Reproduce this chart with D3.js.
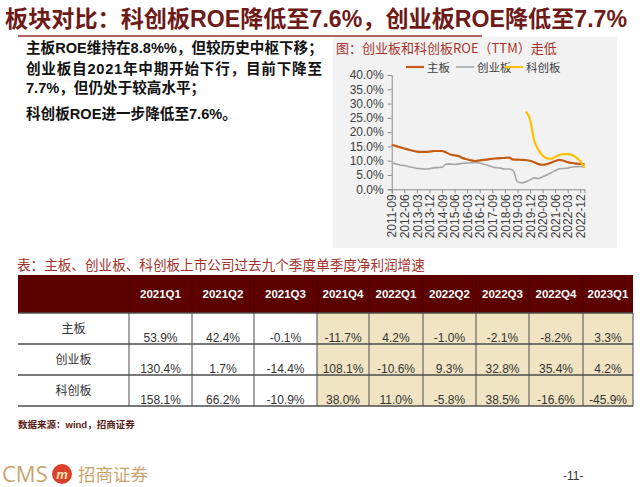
<!DOCTYPE html>
<html><head><meta charset="utf-8">
<script src="https://cdn.jsdelivr.net/npm/d3@7"></script>
<style>
html,body{margin:0;padding:0;background:#fff;}
svg{display:block;}
</style></head>
<body>
<svg id="c" width="640" height="487"></svg>
<script>
// ---------------- data ----------------
const quarters = ["2011-09","2011-12","2012-03","2012-06","2012-09","2012-12","2013-03","2013-06","2013-09","2013-12",
"2014-03","2014-06","2014-09","2014-12","2015-03","2015-06","2015-09","2015-12","2016-03","2016-06","2016-09","2016-12",
"2017-03","2017-06","2017-09","2017-12","2018-03","2018-06","2018-09","2018-12","2019-03","2019-06","2019-09","2019-12",
"2020-03","2020-06","2020-09","2020-12","2021-03","2021-06","2021-09","2021-12","2022-03","2022-06","2022-09","2022-12","2023-03"];
const tickLabels = ["2011-09","2012-06","2013-03","2013-12","2014-09","2015-06","2016-03","2016-12","2017-09","2018-06",
"2019-03","2019-12","2020-09","2021-06","2022-03","2022-12"];
const mainBoard = [15.6,15.1,14.7,14.3,13.9,13.5,13.2,13.1,13.1,13.2,13.4,13.4,13.4,12.9,12.2,11.9,11.6,10.9,10.5,10.1,9.9,10.1,
10.3,10.5,10.7,10.8,10.9,11.0,11.1,10.4,10.4,10.3,10.2,10.0,9.5,8.8,8.6,8.8,9.3,9.9,10.3,10.0,9.5,9.2,9.0,8.9,8.8];
const chiNext = [9.3,8.9,8.5,8.3,8.0,7.6,7.3,7.2,7.1,7.2,7.5,7.6,7.7,8.8,8.8,8.7,8.9,9.1,9.2,9.3,9.4,9.2,
8.8,8.3,7.8,7.6,7.4,7.1,7.1,6.5,2.6,2.3,2.6,3.3,4.0,3.8,4.4,5.0,5.8,6.5,7.2,7.3,7.4,7.8,7.9,8.0,7.7];
const starMarket = [null,null,null,null,null,null,null,null,null,null,null,null,null,null,null,null,null,null,null,null,null,null,
null,null,null,null,null,null,null,null,null,null,27.2,24.5,17.0,13.8,11.8,10.8,10.7,11.3,12.0,12.3,12.3,12.0,11.2,9.8,7.6];
const yTicks = [0,5,10,15,20,25,30,35,40];
const seriesNames = ["主板","创业板","科创板"];
const seriesColors = ["#c55a11","#a5a5a5","#ffc000"];

const tableCols = ["2021Q1","2021Q2","2021Q3","2021Q4","2022Q1","2022Q2","2022Q3","2022Q4","2023Q1"];
const tableRows = ["主板","创业板","科创板"];
const rowMain = ["53.9%","42.4%","-0.1%","-11.7%","4.2%","-1.0%","-2.1%","-8.2%","3.3%"];
const rowChiNext = ["130.4%","1.7%","-14.4%","108.1%","-10.6%","9.3%","32.8%","35.4%","4.2%"];
const rowStar = ["158.1%","66.2%","-10.9%","38.0%","11.0%","-5.8%","38.5%","-16.6%","-45.9%"];

const titleText = "板块对比：科创板ROE降低至7.6%，创业板ROE降低至7.7%";
const bullets = ["主板ROE维持在8.8%%，但较历史中枢下移；","创业板自2021年中期开始下行，目前下降至","7.7%，但仍处于较高水平；","科创板ROE进一步降低至7.6%。"];
const chartTitle = "图：创业板和科创板ROE（TTM）走低";
const tableTitle = "表：主板、创业板、科创板上市公司过去九个季度单季度净利润增速";
const sourceText = "数据来源：wind，招商证券";

// ---------------- drawing ----------------
const FONT = "'Liberation Sans', Arial, 'Noto Sans CJK SC', sans-serif";
const CJK = "'Noto Sans CJK SC', 'Liberation Sans', sans-serif";
const svg = d3.select("#c").style("font-family", FONT);
svg.append("rect").attr("width",640).attr("height",487).attr("fill","#fff");

// Title
svg.append("text").attr("x",5).attr("y",27).attr("font-size",23).attr("font-weight","bold")
  .attr("fill","#6e1a17").attr("textLength",622).attr("lengthAdjust","spacingAndGlyphs").text(titleText);
svg.append("line").attr("x1",18).attr("x2",482).attr("y1",36).attr("y2",36)
  .attr("stroke","#9b2c2c").attr("stroke-width",1.5);

// Bullets
const bulletY = [53, 73.5, 93, 118.5];
bullets.forEach((b,i)=>{
  const t = svg.append("text").attr("x",26).attr("y",bulletY[i]).attr("font-size",14.6)
    .attr("font-weight","bold").attr("fill","#111").text(b);
  if(i===1) t.attr("textLength",296).attr("lengthAdjust","spacing");
});

// Chart panel
svg.append("rect").attr("x",333).attr("y",37).attr("width",284).attr("height",211).attr("fill","#f2f2f2");
svg.append("text").attr("x",336).attr("y",52.5).attr("font-size",13).attr("fill","#a8322b")
  .style("font-family",CJK).text(chartTitle);

const x = d3.scalePoint().domain(quarters).range([391.7, 584.5]);
const y = d3.scaleLinear().domain([0,40]).range([189.3, 75]);

const gy = svg.append("g").attr("transform","translate(391.7,0)")
  .call(d3.axisLeft(y).tickValues(yTicks).tickSize(4).tickFormat(d=>d3.format(".1f")(d)+"%"));
gy.select(".domain").attr("stroke","#8c8c8c");
gy.selectAll(".tick line").attr("stroke","#8c8c8c");
gy.selectAll(".tick text").attr("font-size",12).attr("fill","#404040").attr("x",-8).style("font-family",FONT);

const gx = svg.append("g").attr("transform","translate(0,189.3)")
  .call(d3.axisBottom(x).tickValues(tickLabels).tickSize(4));
gx.select(".domain").attr("stroke","#8c8c8c");
gx.selectAll(".tick line").attr("stroke","#8c8c8c");
gx.selectAll(".tick text").attr("font-size",12).attr("fill","#404040").style("font-family",FONT)
  .attr("transform","rotate(-90)").attr("text-anchor","end").attr("x",-5).attr("y",0).attr("dy","0.35em");

const allSeries = [mainBoard, chiNext, starMarket];
const line = d3.line().defined(d=>d.v!==null).x(d=>x(d.q)).y(d=>y(d.v)).curve(d3.curveMonotoneX);
[1,0,2].forEach(si=>{
  const data = quarters.map((q,i)=>({q, v: allSeries[si][i]}));
  svg.append("path").datum(data).attr("d",line).attr("fill","none")
    .attr("stroke",seriesColors[si]).attr("stroke-width", si===1?1.6:2.2)
    .attr("stroke-linejoin","round");
});

// Legend
const legX = [406, 456, 505];
seriesNames.forEach((n,i)=>{
  svg.append("line").attr("x1",legX[i]).attr("x2",legX[i]+18).attr("y1",67).attr("y2",67)
    .attr("stroke",seriesColors[i]).attr("stroke-width", i===1?1.6:2.2);
  svg.append("text").attr("x",legX[i]+21).attr("y",71.5).attr("font-size",11.5).attr("fill","#404040")
    .style("font-family",CJK).text(n);
});

// Table title
svg.append("text").attr("x",17).attr("y",270).attr("font-size",13.6).attr("fill","#a3302a")
  .style("font-family",CJK).text(tableTitle);

// Table
const colX = [18,129,192,254,317,369,423,476,529,583,633];
const rowY = [275,313,344,375,406];
const rowsData = [rowMain,rowChiNext,rowStar];
svg.append("rect").attr("x",colX[0]).attr("y",rowY[0]).attr("width",colX[10]-colX[0]).attr("height",rowY[1]-rowY[0])
  .attr("fill","#5c0000");
svg.append("rect").attr("x",colX[4]).attr("y",rowY[1]).attr("width",colX[10]-colX[4]).attr("height",rowY[4]-rowY[1])
  .attr("fill","#f0e4c3");
tableCols.forEach((c,i)=>{
  svg.append("text").attr("x",(colX[i+1]+colX[i+2])/2).attr("y",298).attr("text-anchor","middle")
    .attr("font-size",11.5).attr("font-weight","bold").attr("fill","#fff").text(c);
});
for(let i=1;i<10;i++){
  svg.append("line").attr("x1",colX[i]).attr("x2",colX[i]).attr("y1",rowY[0]).attr("y2",rowY[1])
    .attr("stroke","#4a0000").attr("stroke-width",1);
}
for(let r=1;r<=4;r++){
  svg.append("line").attr("x1",colX[0]).attr("x2",colX[10]).attr("y1",rowY[r]).attr("y2",rowY[r])
    .attr("stroke","#4d4d4d").attr("stroke-width",1.4);
}
for(let i=1;i<=10;i++){
  svg.append("line").attr("x1",colX[i]).attr("x2",colX[i]).attr("y1",rowY[1]).attr("y2",rowY[4])
    .attr("stroke","#4d4d4d").attr("stroke-width",1);
}
tableRows.forEach((rn,r)=>{
  svg.append("text").attr("x",(colX[0]+colX[1])/2).attr("y",rowY[r+1]+20).attr("text-anchor","middle")
    .attr("font-size",12).attr("fill","#333").style("font-family",CJK).text(rn);
  rowsData[r].forEach((v,i)=>{
    svg.append("text").attr("x",(colX[i+1]+colX[i+2])/2).attr("y",rowY[r+1]+29).attr("text-anchor","middle")
      .attr("font-size",12).attr("fill","#333").text(v);
  });
});

// Source
svg.append("text").attr("x",18).attr("y",428).attr("font-size",9.5).attr("font-weight","bold")
  .attr("fill","#5a1a14").text(sourceText);

// Footer logo
svg.append("text").attr("x",2).attr("y",482).attr("font-size",22).attr("fill","#c9a46c")
  .style("font-family","'Open Sans','Liberation Sans',sans-serif").text("CMS");
svg.append("circle").attr("cx",62).attr("cy",474).attr("r",10).attr("fill","#d9412b");
svg.append("text").attr("x",62).attr("y",478.5).attr("text-anchor","middle").attr("font-size",13)
  .attr("font-style","italic").attr("font-weight","bold").attr("fill","#fde3b0").text("m");
svg.append("text").attr("x",78).attr("y",481).attr("font-size",17.5).attr("fill","#c9a46c")
  .style("font-family",CJK).text("招商证券");
svg.append("text").attr("x",563).attr("y",480).attr("font-size",12).attr("fill","#333").text("-11-");
</script>
</body></html>
